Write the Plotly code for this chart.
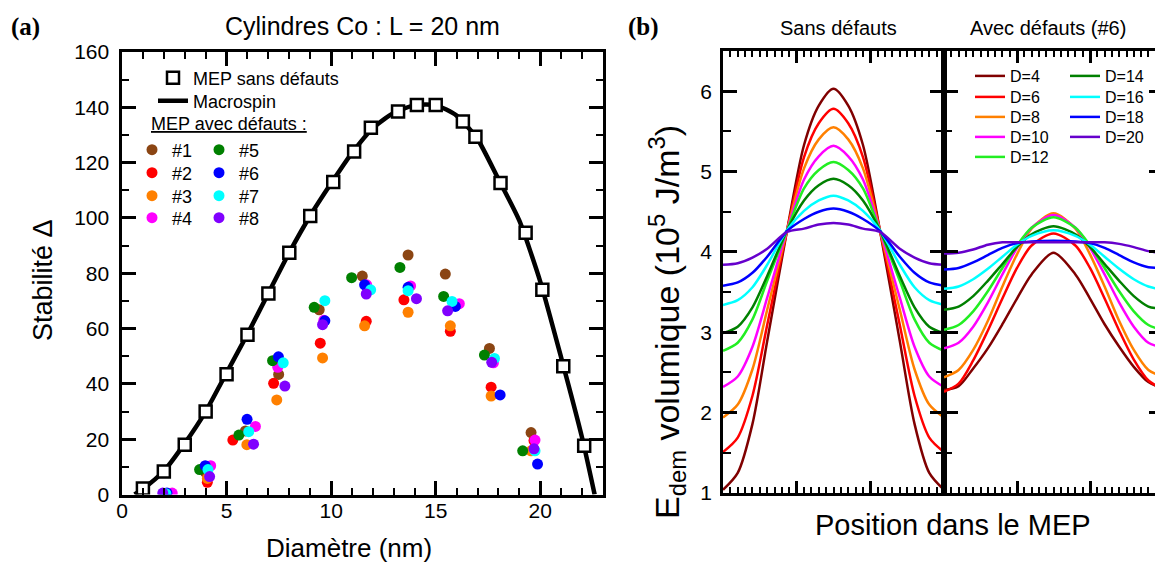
import plotly.graph_objects as go

# The page body keeps an 8 px margin, so the figure is drawn 8 px smaller and
# every reference pixel position p is mapped to figure position p - 8.
OFF = 8
W, H = 1163 - OFF, 566 - OFF


def fx(p):
    return (p - OFF) / W


def fy(p):
    return 1 - (p - OFF) / H


# ---------------- Panel (a) data ----------------
sq_x = [1.0, 2.0, 3.0, 4.0, 5.0, 6.0, 7.0, 8.0, 9.0, 10.1, 11.1, 11.9, 13.2, 14.1,
        15.0, 16.3, 16.9, 18.1, 19.3, 20.1, 21.1, 22.1]
sq_y = [2.2, 8.3, 18.0, 30.0, 43.5, 57.8, 72.7, 87.4, 100.7, 113.0, 124.0, 132.6,
        138.5, 140.8, 140.8, 134.9, 129.4, 112.6, 94.6, 74.0, 46.4, 17.6]

macro_x = [0.6, 1, 2, 3, 4, 5, 6, 7, 8, 9, 10, 11, 12, 13, 14, 15, 16, 17, 18, 19,
           20, 21, 22, 22.6]
macro_y = [0, 2.0, 8.5, 18.5, 30.0, 44.0, 58.0, 72.8, 87.5, 100.8, 112.5, 123.5,
           132.5, 138.0, 140.8, 140.8, 137.0, 128.5, 114.0, 99.0, 77.0, 49.5, 20.5, 0]

defect_names = ["#1", "#2", "#3", "#4", "#5", "#6", "#7", "#8"]
defect_colors = ["#8B4513", "#FF0000", "#FF8000", "#FF00FF",
                 "#008000", "#0000FF", "#00FFFF", "#8000FF"]

d1_x = [2.10, 4.00, 5.90, 7.49, 9.43, 11.49, 13.68, 15.46, 17.57, 19.56]
d1_y = [0.3, 8.0, 23.0, 43.4, 66.8, 79.0, 86.6, 79.7, 52.8, 22.4]
d2_x = [2.10, 4.08, 5.30, 7.25, 9.48, 11.68, 13.48, 15.70, 17.65, 19.70]
d2_y = [0.3, 4.4, 19.7, 40.2, 54.7, 62.6, 70.4, 59.0, 38.8, 19.5]
d3_x = [2.10, 4.08, 5.97, 7.40, 9.59, 11.60, 13.68, 15.70, 17.65, 19.56]
d3_y = [0.3, 5.8, 18.0, 34.2, 49.4, 61.0, 65.9, 61.0, 35.6, 15.8]
d4_x = [2.40, 4.24, 6.38, 7.45, 9.65, 11.70, 13.80, 16.13, 17.76, 19.75]
d4_y = [0.5, 10.4, 24.6, 46.0, 63.0, 75.8, 75.4, 69.0, 47.6, 19.7]
d5_x = [2.00, 3.71, 5.59, 7.20, 9.19, 10.98, 13.29, 15.38, 17.33, 19.16]
d5_y = [0.3, 9.0, 21.5, 48.4, 67.7, 78.4, 82.1, 71.6, 50.4, 15.8]
d6_x = [2.15, 3.98, 5.98, 7.48, 9.70, 11.60, 13.68, 15.94, 18.08, 19.87]
d6_y = [0.5, 10.4, 27.2, 49.8, 62.8, 75.8, 74.9, 68.0, 36.0, 11.0]
d7_x = [2.10, 4.11, 6.06, 7.71, 9.70, 11.89, 13.68, 15.78, 17.81, 19.75]
d7_y = [0.3, 9.0, 22.7, 47.6, 70.1, 74.0, 73.7, 69.8, 49.2, 15.8]
d8_x = [1.95, 4.19, 6.29, 7.79, 9.59, 11.68, 14.08, 15.57, 17.68, 19.70]
d8_y = [0.5, 6.5, 18.2, 39.2, 61.4, 72.5, 70.8, 66.4, 47.8, 16.5]

# ---------------- Panel (b) data ----------------
d_names = ["D=4", "D=6", "D=8", "D=10", "D=12", "D=14", "D=16", "D=18", "D=20"]
d_colors = ["#800000", "#FF0000", "#FF8000", "#FF00FF", "#22EE22",
            "#008000", "#00FFFF", "#0000FF", "#6600CC"]

pos_sans = [0, 2, 4, 6, 8.7, 11, 13, 15, 17, 19, 21.3, 24, 26, 28, 30]
sans_d4 = [1.04, 1.25, 1.86, 2.89, 4.27, 5.33, 5.82, 6.03, 5.82, 5.33, 4.27, 2.89, 1.86, 1.25, 1.04]
sans_d6 = [1.51, 1.69, 2.21, 3.09, 4.27, 5.18, 5.60, 5.78, 5.60, 5.18, 4.27, 3.09, 2.21, 1.69, 1.51]
sans_d8 = [1.94, 2.10, 2.54, 3.28, 4.27, 5.04, 5.40, 5.55, 5.40, 5.04, 4.27, 3.28, 2.54, 2.10, 1.94]
sans_d10 = [2.32, 2.45, 2.82, 3.43, 4.27, 4.90, 5.19, 5.32, 5.19, 4.90, 4.27, 3.43, 2.82, 2.45, 2.32]
sans_d12 = [2.77, 2.87, 3.16, 3.64, 4.27, 4.79, 5.02, 5.12, 5.02, 4.79, 4.27, 3.64, 3.16, 2.87, 2.77]
sans_d14 = [2.99, 3.07, 3.31, 3.70, 4.27, 4.64, 4.83, 4.91, 4.83, 4.64, 4.27, 3.70, 3.31, 3.07, 2.99]
sans_d16 = [3.34, 3.40, 3.56, 3.84, 4.27, 4.51, 4.64, 4.70, 4.64, 4.51, 4.27, 3.84, 3.56, 3.40, 3.34]
sans_d18 = [3.58, 3.62, 3.74, 3.94, 4.26, 4.41, 4.50, 4.54, 4.50, 4.41, 4.26, 3.94, 3.74, 3.62, 3.58]
sans_d20 = [3.84, 3.86, 3.93, 4.04, 4.25, 4.29, 4.34, 4.36, 4.34, 4.29, 4.25, 4.04, 3.93, 3.86, 3.84]

pos_avec = [0, 2, 4, 6, 8, 10, 12, 15, 18, 20, 22, 24, 26, 28, 30]
avec_d4 = [2.28, 2.33, 2.55, 2.80, 3.10, 3.42, 3.72, 3.99, 3.72, 3.42, 3.10, 2.82, 2.57, 2.38, 2.30]
avec_d6 = [2.26, 2.36, 2.65, 3.02, 3.42, 3.80, 4.08, 4.23, 4.08, 3.80, 3.42, 3.02, 2.66, 2.40, 2.29]
avec_d8 = [2.44, 2.53, 2.78, 3.14, 3.57, 3.97, 4.29, 4.48, 4.29, 3.97, 3.57, 3.14, 2.78, 2.53, 2.45]
avec_d10 = [2.80, 2.87, 3.07, 3.37, 3.72, 4.05, 4.30, 4.46, 4.30, 4.05, 3.72, 3.37, 3.07, 2.87, 2.81]
avec_d12 = [3.03, 3.09, 3.26, 3.51, 3.80, 4.08, 4.30, 4.43, 4.30, 4.08, 3.80, 3.51, 3.26, 3.09, 3.03]
avec_d14 = [3.28, 3.32, 3.45, 3.64, 3.85, 4.06, 4.22, 4.32, 4.22, 4.06, 3.85, 3.64, 3.45, 3.32, 3.29]
avec_d16 = [3.54, 3.57, 3.66, 3.79, 3.94, 4.09, 4.20, 4.27, 4.20, 4.09, 3.94, 3.79, 3.66, 3.57, 3.53]
avec_d18 = [3.78, 3.80, 3.87, 3.96, 4.05, 4.11, 4.13, 4.14, 4.13, 4.11, 4.05, 3.96, 3.87, 3.81, 3.80]
avec_d20 = [3.98, 3.99, 4.03, 4.09, 4.12, 4.12, 4.12, 4.12, 4.12, 4.12, 4.12, 4.10, 4.06, 4.01, 3.98]

defect_x = [d1_x, d2_x, d3_x, d4_x, d5_x, d6_x, d7_x, d8_x]
defect_y = [d1_y, d2_y, d3_y, d4_y, d5_y, d6_y, d7_y, d8_y]
sans_all = [sans_d4, sans_d6, sans_d8, sans_d10, sans_d12, sans_d14, sans_d16, sans_d18, sans_d20]
avec_all = [avec_d4, avec_d6, avec_d8, avec_d10, avec_d12, avec_d14, avec_d16, avec_d18, avec_d20]

FONT = "Liberation Sans"
fig = go.Figure()
legends = {}


def add_legend(key, x_px, y_px, size):
    legends[key] = dict(x=fx(x_px), y=fy(y_px), xanchor="left", yanchor="middle",
                        bgcolor="rgba(0,0,0,0)", borderwidth=0,
                        font=dict(family=FONT, size=size, color="black"))


# Panel (a)
fig.add_trace(go.Scatter(x=macro_x, y=macro_y, mode="lines", name="Macrospin",
                         line=dict(color="black", width=4.5, shape="spline", smoothing=0.6),
                         xaxis="x", yaxis="y", legend="legend2"))
add_legend("legend2", 153, 101, 18)
fig.add_trace(go.Scatter(x=sq_x, y=sq_y, mode="markers", name="MEP sans défauts",
                         marker=dict(symbol="square", size=12, color="white",
                                     line=dict(color="black", width=2.5)),
                         xaxis="x", yaxis="y", legend="legend"))
add_legend("legend", 153, 78, 18)
row_a = [150, 173, 196, 218]
for i in range(8):
    key = "legend%d" % (3 + i)
    fig.add_trace(go.Scatter(x=defect_x[i], y=defect_y[i], mode="markers", name=defect_names[i],
                             marker=dict(size=11, color=defect_colors[i]),
                             xaxis="x", yaxis="y", legend=key))
    add_legend(key, 132 if i < 4 else 199, row_a[i % 4], 18)

# Panel (b)
for i in range(9):
    fig.add_trace(go.Scatter(x=pos_sans, y=sans_all[i], mode="lines", showlegend=False,
                             line=dict(color=d_colors[i], width=2.5, shape="spline", smoothing=0.8),
                             xaxis="x2", yaxis="y2"))
row_b = [76, 97, 117, 137, 157]
for i in range(9):
    key = "legend%d" % (11 + i)
    fig.add_trace(go.Scatter(x=pos_avec, y=avec_all[i], mode="lines", name=d_names[i],
                             line=dict(color=d_colors[i], width=2.5, shape="spline", smoothing=0.8),
                             xaxis="x3", yaxis="y3", legend=key))
    add_legend(key, 970 if i < 5 else 1065, row_b[i if i < 5 else i - 5], 16)

common = dict(showgrid=False, zeroline=False, showline=True, linecolor="black",
              linewidth=2.5, mirror="allticks", ticks="inside", tickcolor="black",
              tickwidth=2.5, automargin=False,
              tickfont=dict(family=FONT, size=21, color="black"))

fig.update_layout(
    width=W, height=H, margin=dict(l=0, r=0, t=0, b=0, autoexpand=False),
    plot_bgcolor="white", paper_bgcolor="white",
    font=dict(family=FONT, color="black"),
    xaxis=dict(domain=[fx(122), fx(603)], range=[0, 23], dtick=5, tick0=0, ticklen=14,
               minor=dict(dtick=1, ticklen=7, tickwidth=2, ticks="inside", tickcolor="black"),
               anchor="y", ticklabelstandoff=-4, **common),
    yaxis=dict(domain=[fy(494.5), fy(52)], range=[0, 160], dtick=20, tick0=0, ticklen=14,
               minor=dict(dtick=10, ticklen=7, tickwidth=2, ticks="inside", tickcolor="black"),
               anchor="x", ticksuffix=" ", **common),
    xaxis2=dict(domain=[fx(723), fx(944)], range=[0, 30], dtick=10, tick0=0, ticklen=12,
                showticklabels=False,
                minor=dict(dtick=1, ticklen=6, tickwidth=1.5, ticks="inside", tickcolor="black"),
                anchor="y2", **common),
    yaxis2=dict(domain=[fy(493), fy(51)], range=[1, 6.5], dtick=1, tick0=1, ticklen=14,
                minor=dict(dtick=0.5, ticklen=8, tickwidth=2, ticks="inside", tickcolor="black"),
                anchor="x2", ticksuffix="\u2009", **common),
    xaxis3=dict(domain=[fx(944), 1.0], range=[0, 30], dtick=10, tick0=0, ticklen=12,
                showticklabels=False,
                minor=dict(dtick=1, ticklen=6, tickwidth=1.5, ticks="inside", tickcolor="black"),
                anchor="y3", **common),
    yaxis3=dict(domain=[fy(493), fy(51)], range=[1, 6.5], dtick=1, tick0=1, ticklen=14,
                showticklabels=False,
                minor=dict(dtick=0.5, ticklen=8, tickwidth=2, ticks="inside", tickcolor="black"),
                anchor="x3", **common),
    **legends,
)

ann = [
    dict(text="<b>(a)</b>", x=fx(25), y=fy(27), font=dict(family="Liberation Serif", size=25)),
    dict(text="Cylindres Co : L = 20 nm", x=fx(363), y=fy(26), font=dict(size=25)),
    dict(text="<b>(b)</b>", x=fx(643), y=fy(27), font=dict(family="Liberation Serif", size=25)),
    dict(text="Sans défauts", x=fx(838), y=fy(28), font=dict(size=20)),
    dict(text="Avec défauts (#6)", x=fx(1048), y=fy(28), font=dict(size=20)),
    dict(text="Stabilité Δ", x=fx(43), y=fy(280), textangle=-90, font=dict(size=27)),
    dict(text="Diamètre (nm)", x=fx(349), y=fy(548), font=dict(size=26)),
    dict(text="Position dans le MEP", x=fx(953), y=fy(525), font=dict(size=29)),
    dict(text="E<sub>dem</sub> volumique (10<sup>5</sup> J/m<sup>3</sup>)", x=fx(667), y=fy(322),
         textangle=-90, font=dict(size=34)),
]
for a in ann:
    a.update(xref="paper", yref="paper", showarrow=False, xanchor="center", yanchor="middle")
    a["font"] = dict(family=a["font"].get("family", FONT), size=a["font"]["size"], color="black")
    fig.add_annotation(**a)
fig.add_annotation(text="<u>MEP avec défauts :</u>", x=fx(149), y=fy(124), xref="paper", yref="paper",
                   showarrow=False, xanchor="left", yanchor="middle",
                   font=dict(family=FONT, size=18, color="black"))

fig.write_html("out.html")
